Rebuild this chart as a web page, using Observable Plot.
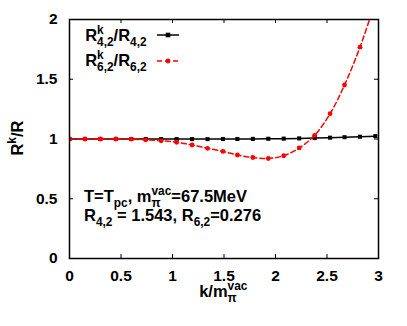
<!DOCTYPE html>
<html><head><meta charset="utf-8">
<script src="https://cdn.jsdelivr.net/npm/d3@7"></script>
<script src="https://cdn.jsdelivr.net/npm/@observablehq/plot@0.6"></script>
<style>
body{margin:0;background:#fff}
svg{font-family:"Liberation Sans",Arial,Helvetica,sans-serif}
</style>
</head><body><div id="chart"></div>
<script>
const kValues = [0, 0.15, 0.30, 0.45, 0.60, 0.74, 0.89, 1.04, 1.19, 1.34, 1.49, 1.63, 1.78, 1.93, 2.08, 2.23, 2.38, 2.53, 2.67, 2.82, 2.97];
const ratio42 = [1, 1, 1, 1, 1, 1, 0.999, 0.999, 0.999, 0.999, 1.0, 1.0, 1.001, 1.002, 1.003, 1.005, 1.008, 1.011, 1.015, 1.019, 1.024];
const ratio62 = [1, 1, 1, 1, 0.999, 0.993, 0.985, 0.973, 0.95, 0.922, 0.896, 0.866, 0.845, 0.837, 0.86, 0.925, 1.031, 1.212, 1.452, 1.768, 2.15];
const xTicks = [0, 0.5, 1, 1.5, 2, 2.5, 3];
const yTicks = [0, 0.5, 1, 1.5, 2];

const d42 = kValues.map((k, i) => ({k, r: ratio42[i]}));
const d62 = kValues.map((k, i) => ({k, r: ratio62[i]}));

const W = 407, H = 326, mL = 69, mR = 29, mT = 19, mB = 68;
const innerH = H - mT - mB, innerW = W - mL - mR;
const tl = 4;

const plot = Plot.plot({
  width: W, height: H,
  marginLeft: mL, marginRight: mR, marginTop: mT, marginBottom: mB,
  x: {domain: [0, 3]},
  y: {domain: [0, 2]},
  style: {fontFamily: '"Liberation Sans",Arial,sans-serif', fontSize: "15.5px", fontWeight: "bold", color: "black", background: "white"},
  marks: [
    Plot.axisX(xTicks, {anchor: "bottom", tickSize: 0, tickPadding: 11, label: null, tickFormat: d => String(d), fontSize: 15.5, fontWeight: "bold"}),
    Plot.axisY(yTicks, {anchor: "left", tickSize: 0, tickPadding: 12, label: null, tickFormat: d => String(d), fontSize: 15.5, fontWeight: "bold"}),
    Plot.tickX(xTicks, {x: d => d, stroke: "black", strokeWidth: 1, insetTop: innerH - tl}),
    Plot.tickX(xTicks, {x: d => d, stroke: "black", strokeWidth: 1, insetBottom: innerH - tl}),
    Plot.tickY(yTicks, {y: d => d, stroke: "black", strokeWidth: 1, insetRight: innerW - tl}),
    Plot.tickY(yTicks, {y: d => d, stroke: "black", strokeWidth: 1, insetLeft: innerW - tl}),
    Plot.line(d42, {x: "k", y: "r", stroke: "black", strokeWidth: 1.5, clip: true}),
    Plot.dot(d42, {x: "k", y: "r", symbol: "square", fill: "black", r: 2.3, clip: true}),
    Plot.line(d62, {x: "k", y: "r", stroke: "#f00", strokeWidth: 1.5, strokeDasharray: "5,3", curve: "catmull-rom", clip: true}),
    Plot.dot(d62, {x: "k", y: "r", fill: "#f00", r: 2.4, clip: true}),
    Plot.frame({stroke: "black", strokeWidth: 1.5})
  ]
});
document.getElementById("chart").appendChild(plot);

const svg = d3.select(plot);
const g = svg.append("g").attr("text-anchor", "start");

function rich(x, y, segs, {size = 16.5, anchor = "start", rotate = 0} = {}) {
  const t = g.append("text").style("font-size", size + "px").style("font-weight", "bold")
    .attr("text-anchor", "start").attr("fill", "black");
  if (rotate) t.attr("transform", `translate(${x},${y}) rotate(${rotate})`);
  else t.attr("x", x).attr("y", y);
  const ss = size * 0.72, up = size * 0.42, down = size * 0.32;
  let base = 0, pend = 0;
  const put = (tsp, target, dx) => { tsp.attr("dy", target - base); base = target; if (dx) tsp.attr("dx", dx); };
  for (const s of segs) {
    if (typeof s === "string") {
      const tsp = t.append("tspan").text(s); put(tsp, 0, pend); pend = 0;
    } else {
      let wSup = 0, wSub = 0;
      if (s.sup) {
        const tsp = t.append("tspan").style("font-size", ss + "px").text(s.sup);
        put(tsp, -up, pend); pend = 0; wSup = tsp.node().getComputedTextLength();
      }
      if (s.sub) {
        const tsp = t.append("tspan").style("font-size", ss + "px").text(s.sub);
        put(tsp, down, s.sup ? -wSup : pend); pend = 0; wSub = tsp.node().getComputedTextLength();
      }
      if (s.sup && s.sub) pend = Math.max(0, wSup - wSub);
    }
  }
  const w = t.node().getBBox().width;
  let shift = anchor === "end" ? -w : anchor === "middle" ? -w / 2 : 0;
  if (rotate) t.attr("transform", `translate(${x},${y}) rotate(${rotate}) translate(${shift},0)`);
  else t.attr("x", x + shift);
  return t;
}

// legend
rich(147, 40.5, ["R", {sup: "k", sub: "4,2"}, "/R", {sub: "4,2"}], {anchor: "end"});
rich(147, 65.5, ["R", {sup: "k", sub: "6,2"}, "/R", {sub: "6,2"}], {anchor: "end"});
g.append("line").attr("x1", 157).attr("x2", 179).attr("y1", 35).attr("y2", 35).attr("stroke", "black").attr("stroke-width", 1.5);
g.append("rect").attr("x", 165.7).attr("y", 32.7).attr("width", 4.6).attr("height", 4.6).attr("fill", "black");
g.append("line").attr("x1", 157).attr("x2", 179).attr("y1", 61).attr("y2", 61).attr("stroke", "#f00").attr("stroke-width", 1.5).attr("stroke-dasharray", "5,3");
g.append("circle").attr("cx", 168).attr("cy", 61).attr("r", 2.4).attr("fill", "#f00");

// annotations
rich(84, 202, ["T=T", {sub: "pc"}, ", m", {sup: "vac", sub: "π"}, "=67.5MeV"]);
rich(84, 220.5, ["R", {sub: "4,2"}, " = 1.543, R", {sub: "6,2"}, "=0.276"]);

// axis labels
rich(223.5, 296.5, ["k/m", {sup: "vac", sub: "π"}], {anchor: "middle"});
rich(23, 138, ["R", {sup: "k"}, "/R"], {anchor: "middle", rotate: -90});
</script>
</body></html>
